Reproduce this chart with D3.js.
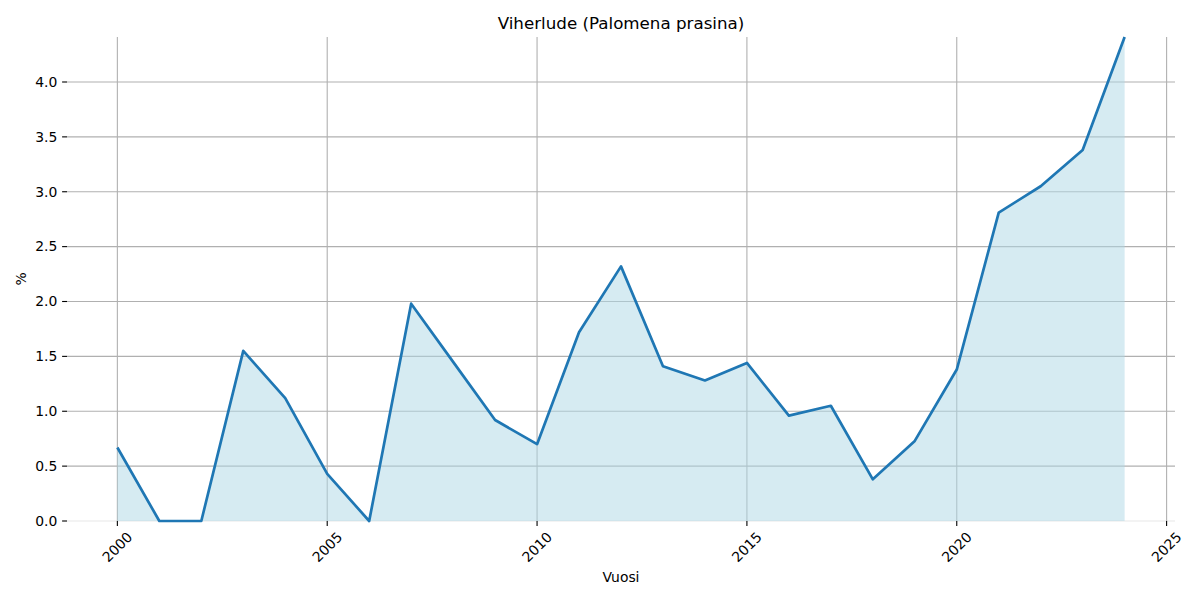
<!DOCTYPE html>
<html><head><meta charset="utf-8">
<script src="https://cdn.jsdelivr.net/npm/d3@7"></script>
<style>body{margin:0;background:#fff}svg{display:block;font-family:"DejaVu Sans",sans-serif}</style>
</head><body><svg id="c" width="1200" height="600"></svg>
<script>
const years = [2000,2001,2002,2003,2004,2005,2006,2007,2008,2009,2010,2011,2012,2013,2014,2015,2016,2017,2018,2019,2020,2021,2022,2023,2024];
const values = [0.67,0,0,1.55,1.12,0.43,0,1.98,1.45,0.92,0.70,1.72,2.32,1.41,1.28,1.44,0.96,1.05,0.38,0.73,1.38,2.81,3.05,3.38,4.41];
const xTicks = [2000,2005,2010,2015,2020,2025];
const yTicks = [0,0.5,1.0,1.5,2.0,2.5,3.0,3.5,4.0];
const title = "Viherlude (Palomena prasina)";
const xLabel = "Vuosi", yLabel = "%";

const svg = d3.select("#c");
const L = 67, R = 1175, T = 37, B = 521;
const x = d3.scaleLinear().domain([1998.8, 2025.2]).range([L, R]);
const y = d3.scaleLinear().domain([0, d3.max(values)]).range([B, T]);
const data = years.map((d,i)=>({x:d,y:values[i]}));

// grid
const g = svg.append("g");
g.selectAll(".hg").data(yTicks).join("line")
  .attr("x1",L).attr("x2",R).attr("y1",d=>y(d)).attr("y2",d=>y(d))
  .attr("stroke", d=> d===0 ? "#e8e8e8" : "#b0b0b0").attr("stroke-width",1.1);
g.selectAll(".vg").data(xTicks).join("line")
  .attr("y1",T).attr("y2",B).attr("x1",d=>x(d)).attr("x2",d=>x(d))
  .attr("stroke","#b0b0b0").attr("stroke-width",1.1);

// fill
svg.append("path").datum(data)
  .attr("d", d3.area().x(d=>x(d.x)).y0(y(0)).y1(d=>y(d.y)))
  .attr("fill","lightblue").attr("fill-opacity",0.5);
// line
svg.append("path").datum(data)
  .attr("d", d3.line().x(d=>x(d.x)).y(d=>y(d.y)))
  .attr("fill","none").attr("stroke","#1f77b4").attr("stroke-width",2.7)
  .attr("stroke-linejoin","round");

// y ticks
const yt = svg.append("g");
yt.selectAll("line").data(yTicks).join("line")
  .attr("x1",L-4.9).attr("x2",L).attr("y1",d=>y(d)).attr("y2",d=>y(d))
  .attr("stroke","#000").attr("stroke-width",1.1);
yt.selectAll("text").data(yTicks).join("text")
  .attr("x",L-9.7).attr("y",d=>y(d)).attr("text-anchor","end").attr("dy","0.35em")
  .attr("font-size",13.9).attr("fill","#000").text(d=>d3.format(".1f")(d));
// x ticks
const xt = svg.append("g");
xt.selectAll("line").data(xTicks).join("line")
  .attr("x1",d=>x(d)).attr("x2",d=>x(d)).attr("y1",B).attr("y2",B+4.9)
  .attr("stroke","#000").attr("stroke-width",1.1);
xt.selectAll("text").data(xTicks).join("text")
  .attr("transform",d=>`translate(${x(d)},${B+26}) rotate(-45)`)
  .attr("text-anchor","middle").attr("dy","0.35em")
  .attr("font-size",13.9).attr("fill","#000").text(d=>d);

svg.append("text").attr("x",(L+R)/2).attr("y",T-8.5).attr("text-anchor","middle")
  .attr("font-size",16.7).text(title);
svg.append("text").attr("x",(L+R)/2).attr("y",582).attr("text-anchor","middle")
  .attr("font-size",13.9).text(xLabel);
svg.append("text").attr("transform",`translate(26,${(T+B)/2}) rotate(-90)`).attr("text-anchor","middle")
  .attr("font-size",13.9).text(yLabel);
</script></body></html>
